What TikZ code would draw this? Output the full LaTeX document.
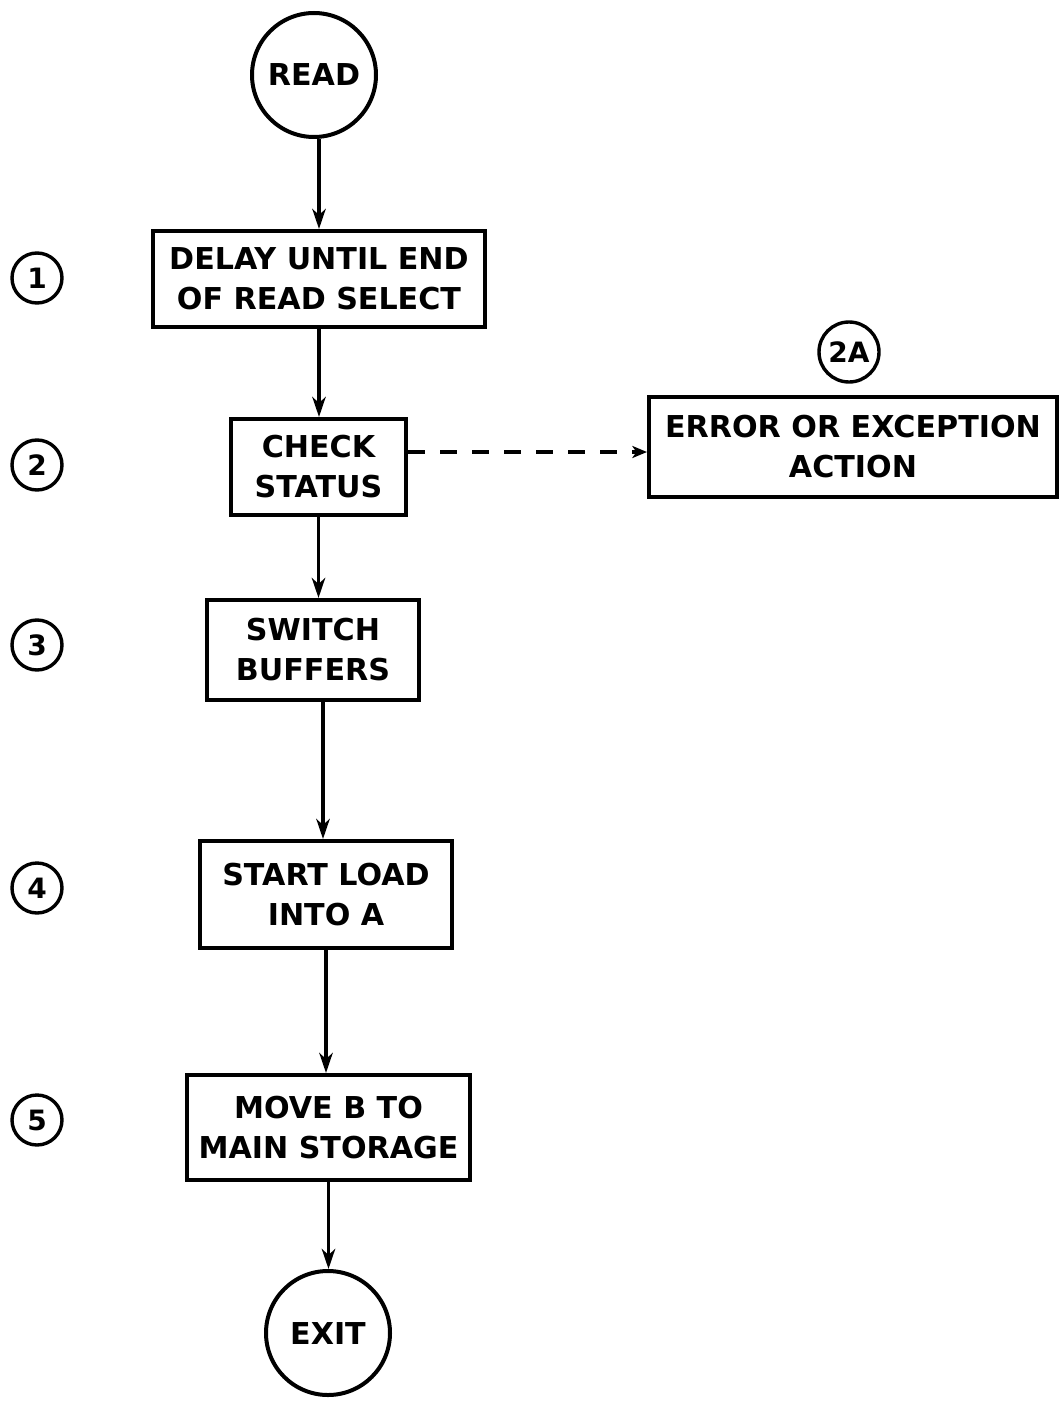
\documentclass[tikz,border=0pt]{standalone}
\usepackage{fontspec}
\setmainfont{DejaVu Sans}
\usetikzlibrary{arrows.meta}
\newdimen\pxu
\pxu=0.75pt
\begin{document}
\begin{tikzpicture}[x=0.75pt,y=-0.75pt,
  lettering/.style={font=\bfseries\fontsize{22.6}{30}\selectfont, align=center},
  stepbox/.style={draw, rectangle, line width=4\pxu, inner sep=0pt, lettering},
  term/.style={draw, circle, line width=4\pxu, inner sep=0pt, minimum size=124\pxu, lettering},
  tag/.style={draw, circle, line width=3.4\pxu, inner sep=0pt, minimum size=50\pxu,
    font=\bfseries\fontsize{21}{24}\selectfont},
  flow/.style={line width=2.6pt, -{Stealth[length=15pt, width=10pt, inset=4.5pt]}},
  side/.style={line width=2.6pt, dash pattern=on 12.75pt off 11.25pt,
    -{Stealth[length=11pt, width=9pt, inset=3pt]}}]
\useasboundingbox (0,0) rectangle (1060,1402);

% terminals
\node[term] (read) at (314,75) {READ};
\node[term] (exit) at (328,1333) {EXIT};

% process steps
\node[stepbox, minimum width=332\pxu, minimum height=96\pxu]  (b1)  at (319,279)    {DELAY UNTIL END\\OF READ SELECT};
\node[stepbox, minimum width=175\pxu, minimum height=96\pxu]  (b2)  at (318.5,467)  {CHECK\\STATUS};
\node[stepbox, minimum width=408\pxu, minimum height=100\pxu] (b2a) at (853,447)    {ERROR OR EXCEPTION\\ACTION};
\node[stepbox, minimum width=212\pxu, minimum height=100\pxu] (b3)  at (313,650)    {SWITCH\\BUFFERS};
\node[stepbox, minimum width=252\pxu, minimum height=107\pxu] (b4)  at (326,894.5)  {START LOAD\\INTO A};
\node[stepbox, minimum width=283\pxu, minimum height=105\pxu] (b5)  at (328.5,1127.5) {MOVE B TO\\MAIN STORAGE};

% step numbers
\node[tag] (n1) at (37,278) {1};
\node[tag] (n2) at (37,465) {2};
\node[tag] (n3) at (37,645) {3};
\node[tag] (n4) at (37,888) {4};
\node[tag] (n5) at (37,1120) {5};
\node[tag, minimum size=60\pxu] (n2a) at (849,352) {2A};

% main flow
\draw[flow] (b1.north |- read.south) -- (b1.north);
\draw[flow] (b1.south) -- (b1.south |- b2.north);
\draw[flow] (b2.south) -- (b2.south |- b3.north);
\draw[flow] ([xshift=10\pxu]b3.south) -- ([xshift=10\pxu]b3.south |- b4.north);
\draw[flow] (b4.south) -- (b4.south |- b5.north);
\draw[flow] (b5.south) -- (b5.south |- exit.north);

% exception branch
\draw[side] ([yshift=15\pxu]b2.east) -- ([yshift=15\pxu]b2.east -| b2a.west);
\end{tikzpicture}
\end{document}
